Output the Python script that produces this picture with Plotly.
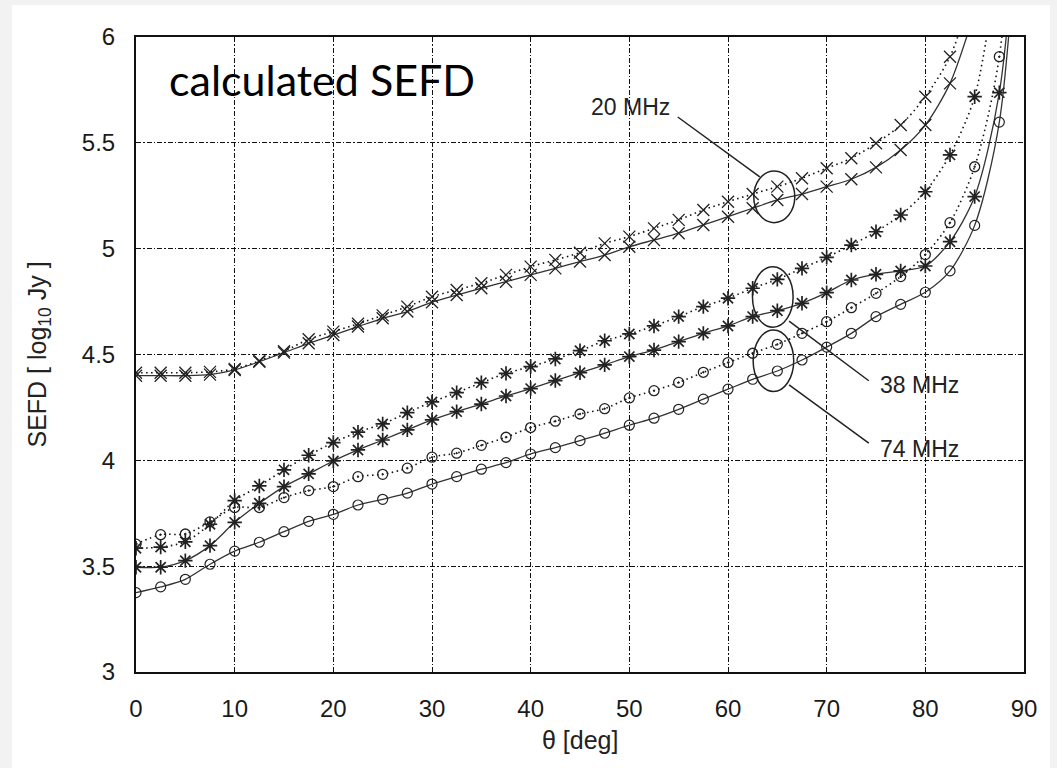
import plotly.graph_objects as go

# ---- data ----
theta = [0, 2.5, 5, 7.5, 10, 12.5, 15, 17.5, 20, 22.5, 25, 27.5, 30, 32.5, 35, 37.5,
         40, 42.5, 45, 47.5, 50, 52.5, 55, 57.5, 60, 62.5, 65, 67.5, 70, 72.5, 75,
         77.5, 80, 82.5, 85, 87.5, 90]

sefd_20_solid = [4.40, 4.40, 4.40, 4.405, 4.427, 4.466, 4.509, 4.553, 4.592, 4.632, 4.671,
                 4.703, 4.747, 4.781, 4.813, 4.844, 4.876, 4.907, 4.939, 4.970, 5.009, 5.041,
                 5.073, 5.112, 5.151, 5.191, 5.230, 5.258, 5.293, 5.328, 5.384, 5.466, 5.584,
                 5.781, 6.12]
sefd_20_dotted = [4.414, 4.414, 4.414, 4.418, 4.432, 4.47, 4.515, 4.572, 4.608, 4.645, 4.685,
                  4.726, 4.773, 4.805, 4.837, 4.876, 4.915, 4.947, 4.981, 5.025, 5.057, 5.096,
                  5.136, 5.183, 5.222, 5.258, 5.293, 5.333, 5.380, 5.427, 5.498, 5.584, 5.718,
                  5.907, 6.25]
sefd_38_solid = [3.495, 3.495, 3.526, 3.597, 3.707, 3.797, 3.876, 3.936, 3.997, 4.049, 4.096,
                 4.144, 4.191, 4.230, 4.266, 4.304, 4.339, 4.377, 4.414, 4.451, 4.490, 4.521,
                 4.561, 4.600, 4.635, 4.679, 4.707, 4.742, 4.792, 4.852, 4.879, 4.895, 4.918,
                 5.033, 5.246, 5.737, 7.0]
sefd_38_dotted = [3.585, 3.59, 3.615, 3.698, 3.81, 3.879, 3.955, 4.024, 4.084, 4.133, 4.172,
                  4.225, 4.276, 4.320, 4.367, 4.411, 4.443, 4.479, 4.518, 4.565, 4.597, 4.635,
                  4.679, 4.726, 4.766, 4.813, 4.855, 4.907, 4.959, 5.017, 5.080, 5.159, 5.269,
                  5.443, 5.718, 6.4]
sefd_74_solid = [3.375, 3.402, 3.438, 3.509, 3.571, 3.613, 3.663, 3.712, 3.745, 3.789, 3.816,
                 3.845, 3.888, 3.923, 3.958, 3.989, 4.030, 4.060, 4.093, 4.128, 4.166, 4.199,
                 4.241, 4.289, 4.336, 4.383, 4.422, 4.474, 4.535, 4.600, 4.679, 4.737, 4.794,
                 4.895, 5.110, 5.598, 7.0]
sefd_74_dotted = [3.604, 3.649, 3.652, 3.709, 3.777, 3.777, 3.824, 3.857, 3.876, 3.923, 3.934,
                  3.963, 4.015, 4.034, 4.071, 4.109, 4.155, 4.185, 4.219, 4.244, 4.295, 4.329,
                  4.368, 4.416, 4.462, 4.506, 4.548, 4.600, 4.655, 4.721, 4.789, 4.868, 4.972,
                  5.123, 5.387, 5.907, 7.5]

x_ticks = [0, 10, 20, 30, 40, 50, 60, 70, 80, 90]
y_ticks = [3, 3.5, 4, 4.5, 5, 5.5, 6]
y_tick_labels = ["3", "3.5", "4", "4.5", "5", "5.5", "6"]

# ---- styling ----
SOLID = dict(color="#333333", width=1.3)
DOTTED = dict(color="#111111", width=1.6, dash="1.5px,3.5px")
MK_COLOR = "#222222"

series = [
    (sefd_20_solid, SOLID, dict(symbol="x-thin-open", size=12, line=dict(color=MK_COLOR, width=1.3))),
    (sefd_20_dotted, DOTTED, dict(symbol="x-thin-open", size=12, line=dict(color=MK_COLOR, width=1.3))),
    (sefd_38_solid, SOLID, dict(symbol="asterisk-open", size=12, line=dict(color="#000000", width=1.7))),
    (sefd_38_dotted, DOTTED, dict(symbol="asterisk-open", size=12, line=dict(color="#000000", width=1.7))),
    (sefd_74_solid, SOLID, dict(symbol="circle-open", size=10, line=dict(color=MK_COLOR, width=1.2))),
    (sefd_74_dotted, DOTTED, dict(symbol="circle-open-dot", size=10, line=dict(color=MK_COLOR, width=1.3))),
]

fig = go.Figure()
for vals, ln, mk in series:
    fig.add_trace(go.Scatter(
        x=theta[:len(vals)], y=vals, mode="lines+markers",
        line=dict(shape="spline", smoothing=0.8, **ln),
        marker=dict(color=MK_COLOR, **mk),
        showlegend=False, hoverinfo="skip",
    ))

# frame geometry (pixels)
L, R, T, B = 136, 1024, 37, 672
W, H = 1057, 768
pw, ph = R - L, B - T

def px(xp):
    return (xp - L) / pw

def py(yp):
    return (B - yp) / ph

shapes = [
    dict(type="rect", xref="paper", yref="paper", x0=px(12), x1=px(1050), y0=py(768), y1=py(5),
         fillcolor="white", line=dict(width=0), layer="below"),
    # ellipses around curves at ~65 deg
    dict(type="circle", xref="x", yref="y", x0=62.61, x1=66.77, y0=5.123, y1=5.367,
         line=dict(color="#222", width=1.5)),
    dict(type="circle", xref="x", yref="y", x0=62.48, x1=66.60, y0=4.629, y1=4.915,
         line=dict(color="#222", width=1.5)),
    dict(type="circle", xref="x", yref="y", x0=62.55, x1=66.66, y0=4.325, y1=4.616,
         line=dict(color="#222", width=1.5)),
    # leader lines
    dict(type="line", xref="x", yref="y", x0=54.91, y0=5.622, x1=63.22, y1=5.339,
         line=dict(color="#222", width=1.5)),
    dict(type="line", xref="x", yref="y", x0=66.19, y0=4.658, x1=74.27, y1=4.376,
         line=dict(color="#222", width=1.5)),
    dict(type="line", xref="x", yref="y", x0=66.19, y0=4.356, x1=74.27, y1=4.081,
         line=dict(color="#222", width=1.5)),
]

label_font = dict(family="Liberation Sans, Arial, sans-serif", size=23, color="#222222")
title_font = dict(family="Liberation Sans, Arial, sans-serif", size=25, color="#222222")
annotations = [
    dict(x=54.3, y=5.669, xref="x", yref="y", text="20 MHz", showarrow=False,
         xanchor="right", yanchor="middle", font=label_font),
    dict(x=75.18, y=4.356, xref="x", yref="y", text="38 MHz", showarrow=False,
         xanchor="left", yanchor="middle", font=label_font),
    dict(x=75.18, y=4.054, xref="x", yref="y", text="74 MHz", showarrow=False,
         xanchor="left", yanchor="middle", font=label_font),
    dict(x=3.1, y=5.80, xref="x", yref="y", text="calculated SEFD", showarrow=False,
         xanchor="left", yanchor="middle",
         font=dict(family="Lato, Carlito, sans-serif", size=43, color="#000000")),
    dict(x=0.5, y=py(740), xref="paper", yref="paper", text="θ [deg]", showarrow=False,
         xanchor="center", yanchor="middle", font=title_font),
    dict(x=px(38), y=0.5, xref="paper", yref="paper", text="SEFD [ log<sub>10</sub> Jy ]",
         showarrow=False, textangle=-90, xanchor="center", yanchor="middle", font=title_font),
]

axis_common = dict(
    showline=True, mirror=True, linecolor="#111111", linewidth=2,
    showgrid=True, gridcolor="#111111", gridwidth=1.2, griddash="5px,2px,1.5px,2px",
    zeroline=False, ticks="", ticklabelstandoff=14,
    tickfont=dict(family="Liberation Sans, Arial, sans-serif", size=24, color="#1a1a1a"),
)

fig.update_layout(
    width=W, height=H,
    margin=dict(l=L, r=W - R, t=T, b=H - B),
    paper_bgcolor="#f2f2f2", plot_bgcolor="white",
    xaxis=dict(range=[0, 90], tickvals=x_ticks, **axis_common),
    yaxis=dict(range=[3, 6], tickvals=y_ticks, ticktext=y_tick_labels, **axis_common),
    shapes=shapes, annotations=annotations,
)

fig.write_html("out.html")
